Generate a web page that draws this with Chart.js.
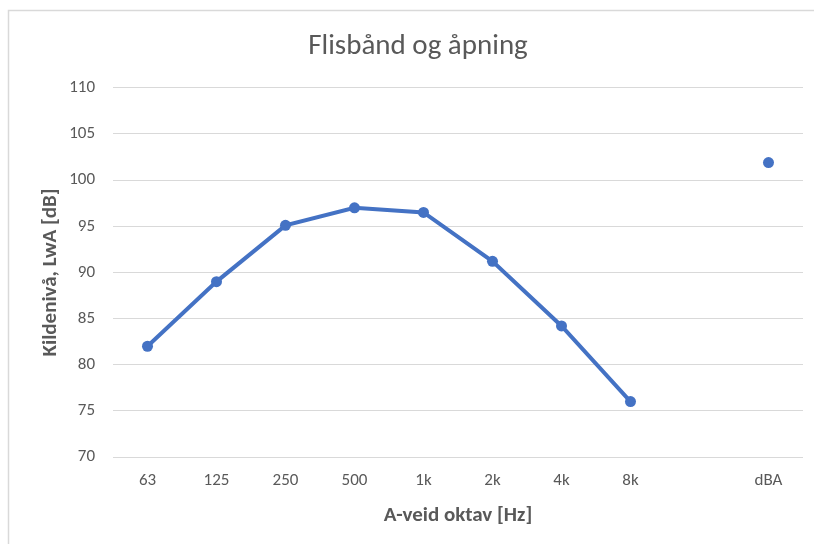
<!DOCTYPE html>
<html>
<head>
<meta charset="utf-8">
<script src="https://cdn.jsdelivr.net/npm/chart.js@4/dist/chart.umd.min.js"></script>
<style>
  html, body { margin: 0; padding: 0; background: #ffffff; }
  #wrap { width: 814px; height: 544px; position: relative; }
</style>
</head>
<body>
<div id="wrap"><canvas id="c" width="814" height="544"></canvas></div>
<script>
// Octave bands plus the overall A-weighted level; the blank slot separates them
const categories = ['63', '125', '250', '500', '1k', '2k', '4k', '8k', '', 'dBA'];
const levels = [82.0, 89.0, 95.1, 97.0, 96.5, 91.2, 84.2, 76.0, null, 101.9];
const yTicks = [70, 75, 80, 85, 90, 95, 100, 105, 110];

const FONT = "Carlito, 'Open Sans', 'Liberation Sans', sans-serif";
const TEXT = '#595959';
const GRID = '#d9d9d9';
const BLUE = '#4472c4';

// Thin frame around the chart card
const framePlugin = {
  id: 'frame',
  beforeDraw(chart) {
    const ctx = chart.ctx;
    ctx.save();
    ctx.fillStyle = '#ffffff';
    ctx.fillRect(0, 0, chart.width, chart.height);
    ctx.strokeStyle = GRID;
    ctx.lineWidth = 1.5;
    ctx.strokeRect(8.5, 10.5, chart.width + 20, chart.height + 20);
    ctx.restore();
  }
};

new Chart(document.getElementById('c'), {
  type: 'line',
  data: {
    labels: categories,
    datasets: [{
      label: 'LwA',
      data: levels,
      borderColor: BLUE,
      backgroundColor: BLUE,
      borderWidth: 4,
      pointRadius: 5.5,
      pointHoverRadius: 5.5,
      pointBorderWidth: 0,
      pointBackgroundColor: BLUE,
      spanGaps: false,
      tension: 0
    }]
  },
  options: {
    responsive: false,
    animation: false,
    devicePixelRatio: 1,
    layout: { padding: { left: 33, right: 11, top: 0, bottom: 0 } },
    plugins: {
      legend: { display: false },
      tooltip: { enabled: false },
      title: {
        display: true,
        text: 'Flisbånd og åpning',
        color: TEXT,
        font: { family: FONT, size: 29, weight: '300' },
        padding: { top: 29, bottom: 24 }
      }
    },
    scales: {
      x: {
        offset: true,
        grid: { display: false, drawTicks: false },
        border: { display: false },
        ticks: {
          color: TEXT,
          font: { family: FONT, size: 17 },
          padding: 13.5,
          maxRotation: 0,
          autoSkip: false
        },
        title: {
          display: true,
          text: 'A-veid oktav [Hz]',
          color: TEXT,
          font: { family: FONT, size: 21, weight: 'bold' },
          padding: { top: 0, bottom: 15.5 }
        },
        afterFit(scale) { scale.height = 87; }
      },
      y: {
        min: 70,
        max: 110,
        afterBuildTicks(scale) { scale.ticks = yTicks.map(v => ({ value: v })); },
        grid: { color: GRID, lineWidth: 1, drawTicks: false },
        border: { display: false },
        ticks: {
          color: TEXT,
          font: { family: FONT, size: 17 },
          padding: 18
        },
        title: {
          display: true,
          text: 'Kildenivå, LwA [dB]',
          color: TEXT,
          font: { family: FONT, size: 21, weight: 'bold' },
          padding: { top: 5.5, bottom: 0 }
        },
        afterFit(scale) { scale.width = 80; }
      }
    }
  },
  plugins: [framePlugin]
});
</script>
</body>
</html>
